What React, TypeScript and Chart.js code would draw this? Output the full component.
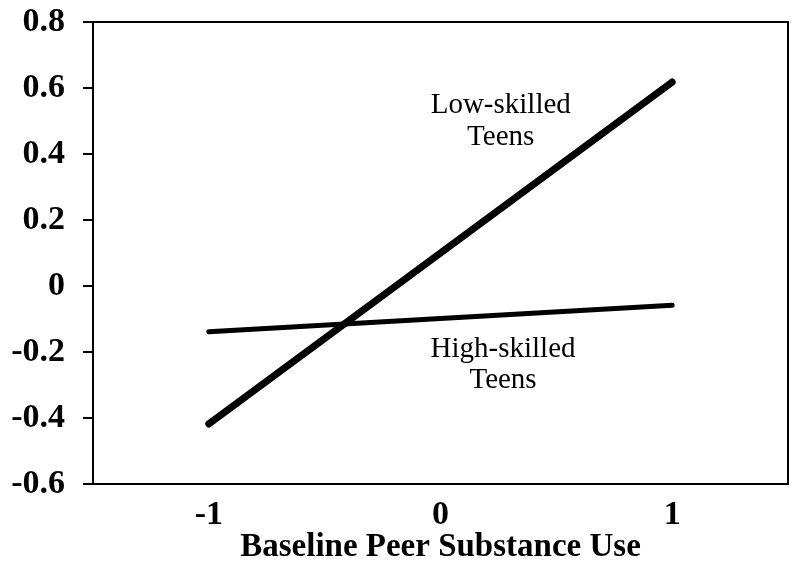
import React, { useEffect, useRef } from "react";
import { Chart, registerables } from "chart.js";

Chart.register(...registerables);

const xValues = [-1, 1];
const lowSkilled = [-0.418, 0.618];
const highSkilled = [-0.139, -0.058];
const xTicks = [-1, 0, 1];
const yTicks = [-0.6, -0.4, -0.2, 0, 0.2, 0.4, 0.6, 0.8];
const xTitle = "Baseline Peer Substance Use";

const annotationTexts = [["Low-skilled", "Teens"], ["High-skilled", "Teens"]];
const annotationX = [0.26, 0.27];
const annotationY = [[0.524, 0.427], [-0.215, -0.309]];

const SERIF = "'Liberation Serif', 'Times New Roman', serif";

const boxAndLabels = {
  id: "boxAndLabels",
  afterDatasetsDraw(chart: any) {
    const { ctx, chartArea, scales } = chart;
    ctx.save();
    ctx.strokeStyle = "#000";
    ctx.lineWidth = 2;
    ctx.strokeRect(chartArea.left, chartArea.top, chartArea.right - chartArea.left, chartArea.bottom - chartArea.top);
    ctx.fillStyle = "#000";
    ctx.font = `29px ${SERIF}`;
    ctx.textAlign = "center";
    ctx.textBaseline = "alphabetic";
    annotationTexts.forEach((lines, i) => {
      const px = scales.x.getPixelForValue(annotationX[i]);
      lines.forEach((t, j) => {
        const py = scales.y.getPixelForValue(annotationY[i][j]);
        ctx.fillText(t, px, py);
      });
    });
    ctx.restore();
  },
};

export default function App() {
  const ref = useRef<HTMLCanvasElement>(null);
  useEffect(() => {
    if (!ref.current) return;
    const chart = new Chart(ref.current, {
      type: "line",
      data: {
        datasets: [
          {
            label: "Low-skilled Teens",
            data: xValues.map((x, i) => ({ x, y: lowSkilled[i] })),
            borderColor: "#000",
            borderWidth: 7,
            borderCapStyle: "round",
            pointRadius: 0,
          },
          {
            label: "High-skilled Teens",
            data: xValues.map((x, i) => ({ x, y: highSkilled[i] })),
            borderColor: "#000",
            borderWidth: 5,
            borderCapStyle: "round",
            pointRadius: 0,
          },
        ],
      },
      options: {
        animation: false,
        responsive: false,
        maintainAspectRatio: false,
        layout: { padding: { top: 22, right: 7, left: 0, bottom: 0 } },
        plugins: { legend: { display: false }, tooltip: { enabled: false } },
        scales: {
          x: {
            type: "linear",
            min: -1.5,
            max: 1.5,
            afterBuildTicks: (s: any) => {
              s.ticks = xTicks.map((v) => ({ value: v }));
            },
            afterFit: (s: any) => {
              s.height = 92;
              s.paddingLeft = 0;
              s.paddingRight = 0;
            },
            grid: { display: false, drawTicks: false },
            border: { display: false },
            ticks: {
              color: "#000",
              font: { family: SERIF, size: 34, weight: "bold" },
              padding: 11,
              callback: (v: any) => String(v),
            },
            title: {
              display: true,
              text: xTitle,
              color: "#000",
              font: { family: SERIF, size: 33, weight: "bold" },
              padding: { top: 0, bottom: 9 },
            },
          },
          y: {
            type: "linear",
            min: -0.6,
            max: 0.8,
            afterBuildTicks: (s: any) => {
              s.ticks = yTicks.map((v) => ({ value: v }));
            },
            afterFit: (s: any) => {
              s.width = 93;
              s.paddingTop = 0;
              s.paddingBottom = 0;
            },
            grid: {
              drawOnChartArea: false,
              drawTicks: true,
              tickLength: 10,
              color: "#000",
              lineWidth: 2,
            },
            border: { display: false },
            ticks: {
              color: "#000",
              font: { family: SERIF, size: 34, weight: "bold" },
              padding: 18,
              callback: (v: any) => (Math.abs(v) < 1e-9 ? "0" : Number(v).toFixed(1)),
            },
          },
        },
      },
      plugins: [boxAndLabels],
    } as any);
    return () => chart.destroy();
  }, []);
  return (
    <div style={{ position: "absolute", left: 0, top: 0, width: 795, height: 576, background: "#fff" }}>
      <canvas ref={ref} width={795} height={576} style={{ width: 795, height: 576 }} />
    </div>
  );
}
